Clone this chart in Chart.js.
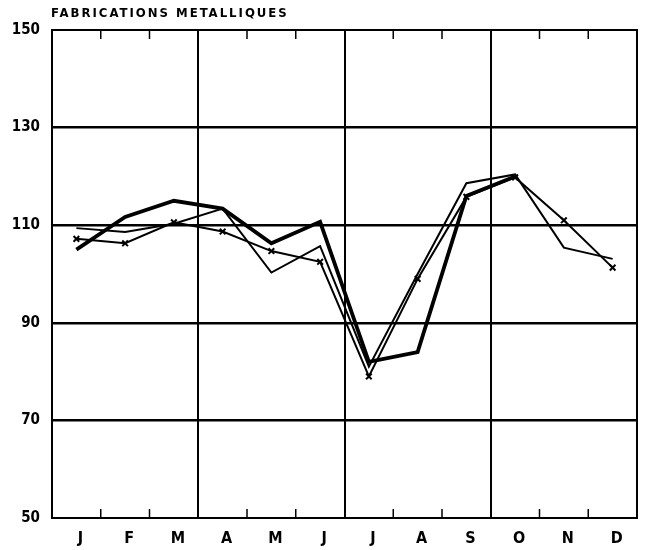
<!DOCTYPE html>
<html>
<head>
<meta charset="utf-8">
<script src="https://cdn.jsdelivr.net/npm/chart.js@4.4.1/dist/chart.umd.min.js"></script>
<style>
html,body{margin:0;padding:0;background:#fff;}
#wrap{width:649px;height:550px;}
</style>
</head>
<body>
<div id="wrap"><canvas id="c" width="649" height="550"></canvas></div>
<script>
const title = 'FABRICATIONS METALLIQUES';
const months = ['J','F','M','A','M','J','J','A','S','O','N','D'];
const yTicks = [50, 70, 90, 110, 130, 150];
const thickSeries = [105, 111.7, 115, 113.4, 106.3, 110.7, 82, 84, 116, 120, null, null];
const thinSeries = [109.4, 108.6, 110.3, 113.4, 100.3, 105.7, 81, 100, 118.6, 120.4, 105.4, 103.1];
const crossSeries = [107.2, 106.3, 110.6, 108.7, 104.7, 102.5, 79, 99, 115.8, 119.8, 111, 101.3];
const quarterBreaks = [3, 6, 9];

const FONT = "'DejaVu Sans Condensed','Liberation Sans Narrow','DejaVu Sans',sans-serif";

const framePlugin = {
  id: 'frame',
  afterDatasetsDraw(chart) {
    const {ctx, chartArea: a, scales: {x}} = chart;
    ctx.save();
    ctx.strokeStyle = '#000';
    ctx.lineWidth = 1.5;
    for (let i = 1; i < months.length; i++) {
      if (quarterBreaks.includes(i)) continue;
      const px = (x.getPixelForValue(i - 1) + x.getPixelForValue(i)) / 2;
      ctx.beginPath();
      ctx.moveTo(px, a.top); ctx.lineTo(px, a.top + 9);
      ctx.moveTo(px, a.bottom); ctx.lineTo(px, a.bottom - 9);
      ctx.stroke();
    }
    ctx.lineWidth = 2;
    ctx.strokeRect(a.left, a.top, a.right - a.left, a.bottom - a.top);
    ctx.fillStyle = '#000';
    ctx.font = "bold 13px " + FONT;
    ctx.textBaseline = 'middle';
    ctx.textAlign = 'left';
    try { ctx.letterSpacing = '2px'; } catch (e) {}
    ctx.fillText(title, 51, 14);
    ctx.restore();
  }
};

new Chart(document.getElementById('c'), {
  type: 'line',
  data: {
    labels: months,
    datasets: [
      {data: thickSeries, borderColor: '#000', borderWidth: 3.8, pointRadius: 0, tension: 0, spanGaps: false},
      {data: thinSeries, borderColor: '#000', borderWidth: 2, pointRadius: 0, tension: 0},
      {data: crossSeries, borderColor: '#000', borderWidth: 2, pointStyle: 'crossRot', pointRadius: 4,
       pointBorderWidth: 2, pointBorderColor: '#000', tension: 0}
    ]
  },
  options: {
    responsive: false,
    animation: false,
    layout: {padding: {left: 0, top: 30, right: 12, bottom: 0}},
    plugins: {legend: {display: false}, tooltip: {enabled: false}, title: {display: false}},
    scales: {
      x: {
        type: 'category',
        offset: true,
        grid: {
          offset: true,
          drawTicks: false,
          color: (c) => quarterBreaks.includes(c.index) ? '#000' : 'rgba(0,0,0,0)',
          lineWidth: 2
        },
        border: {display: false},
        ticks: {color: '#000', padding: 11, labelOffset: 4, font: {family: FONT, weight: 'bold', size: 16}, maxRotation: 0, autoSkip: false},
        afterFit: (s) => { s.height = 32; }
      },
      y: {
        min: 50, max: 150,
        afterBuildTicks: (s) => { s.ticks = yTicks.map(v => ({value: v})); },
        grid: {
          drawTicks: false,
          color: (c) => (c.tick && (c.tick.value === 50 || c.tick.value === 150)) ? 'rgba(0,0,0,0)' : '#000',
          lineWidth: 2.5
        },
        border: {display: false},
        ticks: {color: '#000', padding: 12, font: {family: FONT, weight: 'bold', size: 15}},
        afterFit: (s) => { s.width = 52; }
      }
    }
  },
  plugins: [framePlugin]
});
</script>
</body>
</html>
